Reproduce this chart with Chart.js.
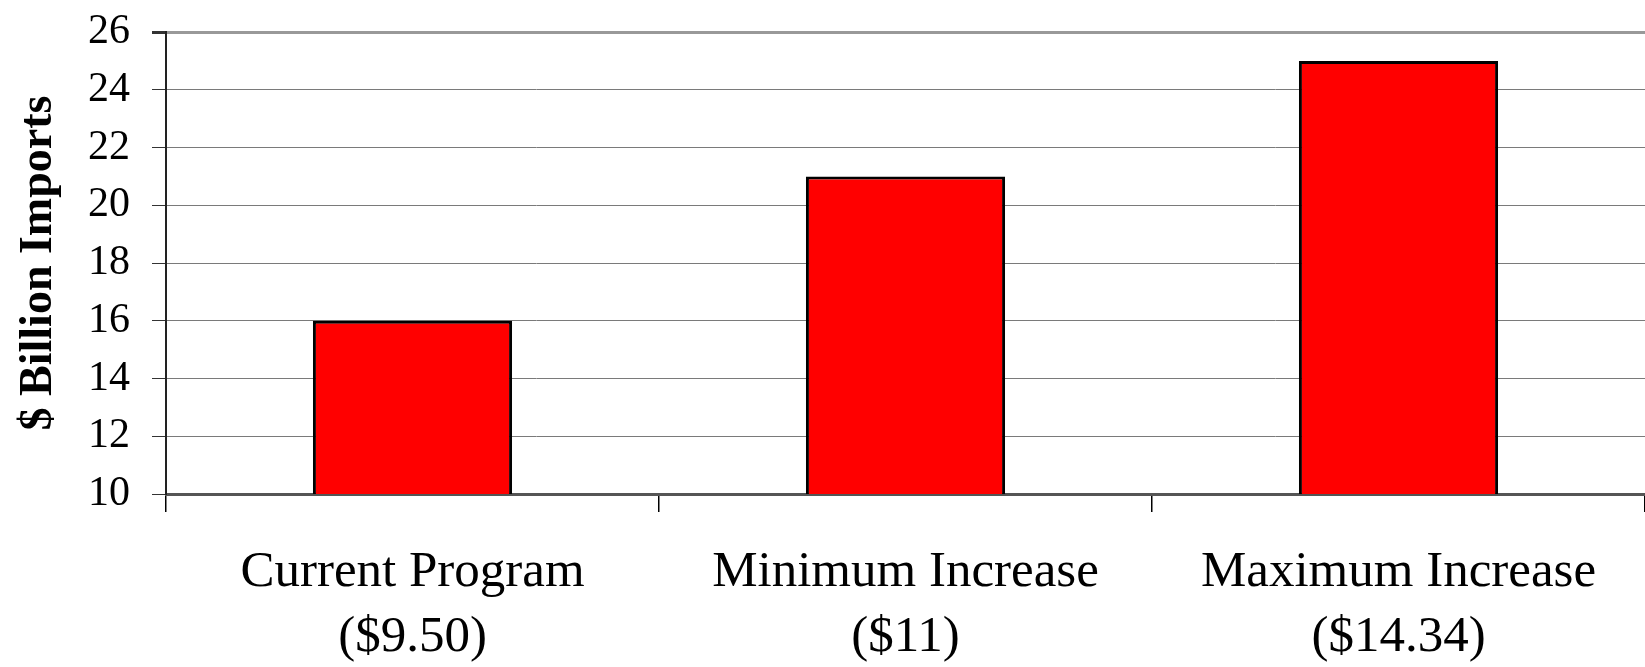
<!DOCTYPE html>
<html>
<head>
<meta charset="utf-8">
<title>$ Billion Imports</title>
<script src="https://cdn.jsdelivr.net/npm/chart.js@4/dist/chart.umd.min.js"></script>
<style>
  html, body { margin: 0; padding: 0; background: #fff; }
  #wrap { width: 1645px; height: 667px; position: relative; }
</style>
</head>
<body>
<div id="wrap"><canvas id="importsChart"></canvas></div>
<script>
/* ================================================
   DATA
================================================ */
const categories = [
  ['Current Program', '($9.50)'],
  ['Minimum Increase', '($11)'],
  ['Maximum Increase', '($14.34)'],
];
const imports = [16, 21, 25];          // $ billion
const yMin = 10, yMax = 26, yStep = 2;
const axisTitle = '$ Billion Imports';

/* ================================================
   CHART
================================================ */
const serif = "'Liberation Serif', 'Times New Roman', serif";

new Chart(document.getElementById('importsChart'), {
  type: 'bar',
  data: {
    labels: categories,
    datasets: [{
      data: imports,
      backgroundColor: '#ff0000',
      borderColor: '#000000',
      borderWidth: 3,
      borderSkipped: false,
      barPercentage: 0.404,
      categoryPercentage: 1,
    }],
  },
  options: {
    responsive: true,
    maintainAspectRatio: false,
    animation: false,
    layout: { padding: 0 },
    plugins: {
      legend: { display: false },
      tooltip: { enabled: false },
    },
    scales: {
      x: {
        offset: true,
        grid: {
          offset: true,
          drawOnChartArea: false,
          drawTicks: true,
          tickLength: 18,
          color: '#000',
          lineWidth: 1.5,
        },
        border: { color: '#555', width: 3 },
        ticks: {
          color: '#000',
          padding: 28,
          maxRotation: 0,
          autoSkip: false,
          font: { family: serif, size: 51, lineHeight: 1.28 },
        },
        afterFit: s => { s.height = 173; },
      },
      y: {
        min: yMin,
        max: yMax,
        ticks: {
          stepSize: yStep,
          color: '#000',
          padding: 22,
          font: { family: serif, size: 42 },
        },
        grid: {
          color: c => (c.tick && c.tick.value === yMax ? '#999' : '#7a7a7a'),
          lineWidth: c => (c.tick && c.tick.value === yMax ? 3 : 1),
          tickLength: 14,
          tickColor: '#333',
        },
        border: { color: '#222', width: 2 },
        title: {
          display: true,
          text: axisTitle,
          color: '#000',
          padding: { top: 12, bottom: 0 },
          font: { family: serif, size: 46, weight: 'bold' },
        },
        afterFit: s => { s.width = 166; s.paddingTop = 32; },
      },
    },
  },
});
</script>
</body>
</html>
